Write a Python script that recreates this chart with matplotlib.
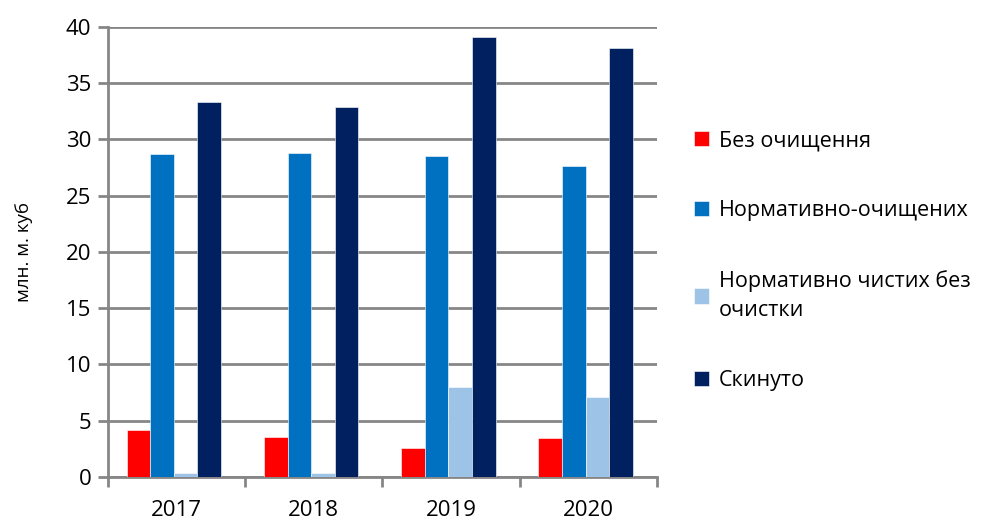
import matplotlib.pyplot as plt
import numpy as np

plt.rcParams['font.family'] = ['Open Sans', 'DejaVu Sans']

years = ['2017', '2018', '2019', '2020']
bez_ochyshchennia = [4.2, 3.55, 2.55, 3.45]
normatyvno_ochyshchenykh = [28.7, 28.8, 28.5, 27.6]
normatyvno_chystykh = [0.3, 0.3, 7.95, 7.05]
skynuto = [33.35, 32.9, 39.15, 38.15]

series = [
    ('Без очищення', bez_ochyshchennia, '#FF0000'),
    ('Нормативно-очищених', normatyvno_ochyshchenykh, '#0070C0'),
    ('Нормативно чистих без\nочистки', normatyvno_chystykh, '#9DC3E6'),
    ('Скинуто', skynuto, '#002060'),
]

fig = plt.figure(figsize=(9.82, 5.21), dpi=100)
ax = fig.add_axes([0.110, 0.085, 0.559, 0.863])

x = np.arange(len(years))
w = 0.172
for i, (label, vals, color) in enumerate(series):
    ax.bar(x + (i - 1.5) * w - 0.02, vals, width=w, color=color, label=label,
           edgecolor='white', linewidth=0.4, zorder=3)

grid_c = '#868686'
ax.set_ylim(0, 40)
ax.set_xlim(-0.5, 3.5)
ax.set_yticks(range(0, 41, 5))
ax.set_xticks(x)
ax.set_xticklabels(years)
ax.set_xticks(np.arange(-0.5, 4, 1), minor=True)
ax.yaxis.grid(True, color=grid_c, linewidth=2, zorder=0)
ax.tick_params(axis='x', which='major', length=0, labelsize=16, pad=17)
ax.tick_params(axis='x', which='minor', length=7, width=2, color=grid_c)
ax.tick_params(axis='y', length=7, width=2, color=grid_c, labelsize=16, pad=5)
for s in ['top', 'right']:
    ax.spines[s].set_visible(False)
for s in ['left', 'bottom']:
    ax.spines[s].set_color(grid_c)
    ax.spines[s].set_linewidth(2)

ax.set_ylabel('млн. м. куб', fontsize=13.5, labelpad=24)

leg = fig.legend(loc='center left', bbox_to_anchor=(0.687, 0.50), frameon=False,
                 fontsize=15.5, handlelength=0.7, handleheight=0.7,
                 handletextpad=0.45, labelspacing=2.28)
for t in leg.get_texts():
    t.set_linespacing(1.45)

fig.savefig('out.png', dpi=100)
